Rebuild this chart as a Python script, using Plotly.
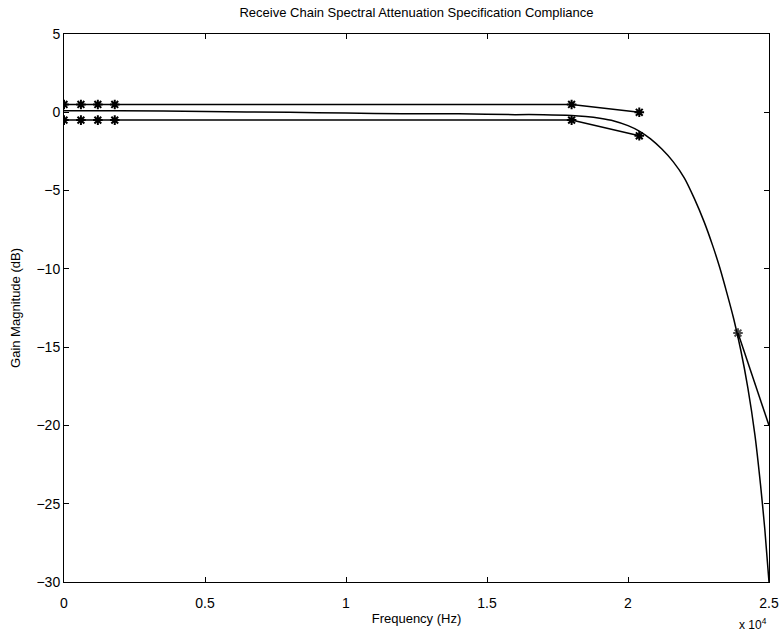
import plotly.graph_objects as go

# Filter response (Hz, dB)
resp_freq = [0, 2000, 5000, 8000, 10000, 12000, 14000, 16000, 17000, 18000, 18500, 19000,
             19500, 20000, 20400, 20800, 21200, 21600, 22000, 22350, 22700, 23000, 23250,
             23500, 23750, 24000, 24250, 24500, 24700, 24850, 25000]
resp_gain = [0.1, 0.1, 0.05, 0.0, -0.05, -0.1, -0.1, -0.15, -0.15, -0.2, -0.27, -0.38,
             -0.55, -0.85, -1.2, -1.7, -2.35, -3.15, -4.2, -5.5, -7.0, -8.5, -9.9,
             -11.5, -13.2, -15.2, -17.6, -20.6, -23.8, -26.6, -30.0]

# Passband mask (upper / lower)
mask_freq = [0, 600, 1200, 1800, 18000, 20400]
mask_upper = [0.5, 0.5, 0.5, 0.5, 0.5, 0.0]
mask_lower = [-0.5, -0.5, -0.5, -0.5, -0.5, -1.5]

# Stopband mask
stop_freq = [23900, 25000]
stop_gain = [-14.1, -20.0]

x_tickvals = [0, 5000, 10000, 15000, 20000, 25000]
x_ticktext = ["0", "0.5", "1", "1.5", "2", "2.5"]
y_tickvals = [5, 0, -5, -10, -15, -20, -25, -30]

FONT = "Liberation Sans, Arial, Helvetica, sans-serif"

fig = go.Figure()
fig.add_trace(go.Scatter(x=resp_freq, y=resp_gain, mode="lines",
                         line=dict(color="black", width=1.5, shape="spline", smoothing=0.6)))
star = dict(symbol="asterisk-open", size=8, color="black", line=dict(color="black", width=2))
fig.add_trace(go.Scatter(x=mask_freq, y=mask_upper, mode="lines+markers",
                         line=dict(color="black", width=1.5), marker=star))
fig.add_trace(go.Scatter(x=mask_freq, y=mask_lower, mode="lines+markers",
                         line=dict(color="black", width=1.5), marker=star))
fig.add_trace(go.Scatter(x=stop_freq, y=stop_gain, mode="lines+markers",
                         line=dict(color="black", width=1.5),
                         marker=dict(symbol="asterisk-open", size=[8, 0], color="black",
                                     line=dict(color="black", width=2))))

axis_common = dict(showgrid=False, zeroline=False, showline=True, linecolor="black",
                   linewidth=1, mirror="ticks", ticks="inside", ticklen=5,
                   tickcolor="black", automargin=False,
                   tickfont=dict(family=FONT, size=14, color="black"))

fig.update_layout(
    width=780, height=632,
    margin=dict(l=64, r=11, t=34, b=50),
    paper_bgcolor="white", plot_bgcolor="white",
    showlegend=False,
    title=dict(text="Receive Chain Spectral Attenuation Specification Compliance",
               x=(64 + 769) / 2 / 780, xanchor="center", y=1 - 12 / 632, yanchor="middle",
               font=dict(family=FONT, size=13, color="black")),
    xaxis=dict(range=[0, 25000], tickvals=x_tickvals, ticktext=x_ticktext,
               ticklabelstandoff=8,
               title=dict(text="Frequency (Hz)", standoff=4,
                          font=dict(family=FONT, size=13, color="black")),
               **axis_common),
    yaxis=dict(range=[-30, 5], tickvals=y_tickvals,
               title=dict(text="Gain Magnitude (dB)", standoff=12,
                          font=dict(family=FONT, size=13, color="black")),
               **axis_common),
)
fig.add_annotation(text="x 10<sup>4</sup>", xref="paper", yref="paper", x=1.0,
                   y=-(624 - 582) / 548, xanchor="right", yanchor="middle", showarrow=False,
                   font=dict(family=FONT, size=12, color="black"))

fig.write_html("out.html", config={"displayModeBar": False},
               post_script="document.body.style.margin='0';")
